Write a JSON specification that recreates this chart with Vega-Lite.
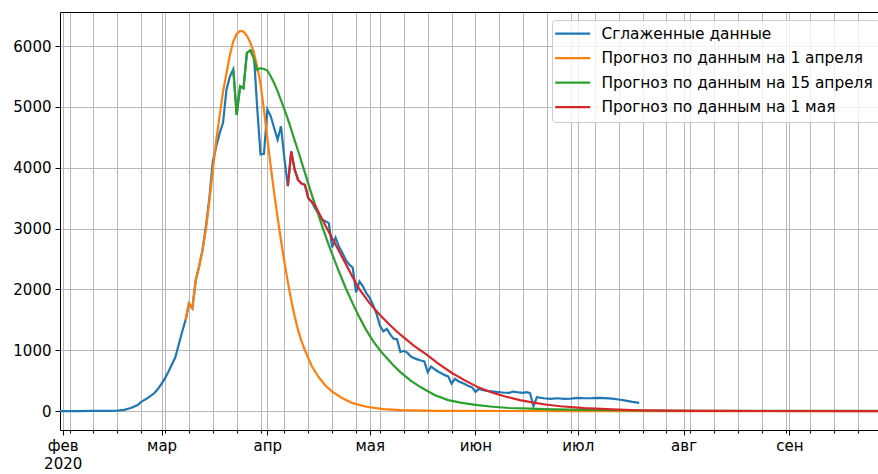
{
  "$schema": "https://vega.github.io/schema/vega-lite/v6.json",
  "width": 818,
  "height": 418,
  "autosize": {"type": "none"},
  "padding": {"left": 60, "top": 12, "right": 0, "bottom": 44},
  "background": "white",
  "config": {
    "font": "DejaVu Sans",
    "view": {"stroke": null},
    "axis": {
      "labelFont": "DejaVu Sans",
      "labelFontSize": 15,
      "labelColor": "#000000",
      "tickColor": "#000000",
      "domainColor": "#000000",
      "domainWidth": 1,
      "tickWidth": 1,
      "gridColor": "#b8b8b8",
      "gridWidth": 1,
      "title": null
    },
    "legend": {
      "labelFont": "DejaVu Sans",
      "labelFontSize": 15.4,
      "labelColor": "#000000",
      "labelLimit": 0
    }
  },
  "datasets": {
    "blue": [
      {"d": "2020-01-31", "v": 0}, {"d": "2020-02-05", "v": 0}, {"d": "2020-02-10", "v": 2}, {"d": "2020-02-14", "v": 4},
      {"d": "2020-02-17", "v": 8}, {"d": "2020-02-19", "v": 20}, {"d": "2020-02-21", "v": 50}, {"d": "2020-02-23", "v": 100},
      {"d": "2020-02-24", "v": 150}, {"d": "2020-02-26", "v": 215}, {"d": "2020-02-28", "v": 300}, {"d": "2020-02-29", "v": 370},
      {"d": "2020-03-01", "v": 450}, {"d": "2020-03-02", "v": 540}, {"d": "2020-03-03", "v": 645}, {"d": "2020-03-04", "v": 765},
      {"d": "2020-03-05", "v": 880}, {"d": "2020-03-06", "v": 1090}, {"d": "2020-03-07", "v": 1300}, {"d": "2020-03-08", "v": 1490},
      {"d": "2020-03-09", "v": 1770}, {"d": "2020-03-10", "v": 1690}, {"d": "2020-03-11", "v": 2150}, {"d": "2020-03-12", "v": 2380},
      {"d": "2020-03-13", "v": 2650}, {"d": "2020-03-14", "v": 3050}, {"d": "2020-03-15", "v": 3500}, {"d": "2020-03-16", "v": 4100},
      {"d": "2020-03-17", "v": 4350}, {"d": "2020-03-18", "v": 4570}, {"d": "2020-03-19", "v": 4740}, {"d": "2020-03-20", "v": 5280},
      {"d": "2020-03-21", "v": 5500}, {"d": "2020-03-22", "v": 5620}, {"d": "2020-03-23", "v": 4870}, {"d": "2020-03-24", "v": 5340},
      {"d": "2020-03-25", "v": 5310}, {"d": "2020-03-26", "v": 5890}, {"d": "2020-03-27", "v": 5930}, {"d": "2020-03-28", "v": 5910},
      {"d": "2020-03-29", "v": 5000}, {"d": "2020-03-30", "v": 4220}, {"d": "2020-03-31", "v": 4230}, {"d": "2020-04-01", "v": 4957},
      {"d": "2020-04-02", "v": 4847}, {"d": "2020-04-03", "v": 4650}, {"d": "2020-04-04", "v": 4464}, {"d": "2020-04-05", "v": 4683},
      {"d": "2020-04-06", "v": 4150}, {"d": "2020-04-07", "v": 3700}, {"d": "2020-04-08", "v": 4270}, {"d": "2020-04-09", "v": 3970},
      {"d": "2020-04-10", "v": 3800}, {"d": "2020-04-11", "v": 3740}, {"d": "2020-04-12", "v": 3720}, {"d": "2020-04-13", "v": 3500},
      {"d": "2020-04-14", "v": 3440}, {"d": "2020-04-15", "v": 3330}, {"d": "2020-04-16", "v": 3250}, {"d": "2020-04-17", "v": 3150},
      {"d": "2020-04-18", "v": 3120}, {"d": "2020-04-19", "v": 3090}, {"d": "2020-04-20", "v": 2690}, {"d": "2020-04-21", "v": 2850},
      {"d": "2020-04-22", "v": 2700}, {"d": "2020-04-23", "v": 2600}, {"d": "2020-04-24", "v": 2480}, {"d": "2020-04-25", "v": 2410},
      {"d": "2020-04-26", "v": 2360}, {"d": "2020-04-27", "v": 1950}, {"d": "2020-04-28", "v": 2130}, {"d": "2020-04-29", "v": 2050},
      {"d": "2020-04-30", "v": 1940}, {"d": "2020-05-01", "v": 1860}, {"d": "2020-05-02", "v": 1740}, {"d": "2020-05-03", "v": 1600},
      {"d": "2020-05-04", "v": 1400}, {"d": "2020-05-05", "v": 1310}, {"d": "2020-05-06", "v": 1350}, {"d": "2020-05-07", "v": 1260},
      {"d": "2020-05-08", "v": 1190}, {"d": "2020-05-09", "v": 1180}, {"d": "2020-05-10", "v": 970}, {"d": "2020-05-11", "v": 990},
      {"d": "2020-05-12", "v": 960}, {"d": "2020-05-13", "v": 900}, {"d": "2020-05-14", "v": 870}, {"d": "2020-05-15", "v": 850},
      {"d": "2020-05-16", "v": 830}, {"d": "2020-05-17", "v": 815}, {"d": "2020-05-18", "v": 640}, {"d": "2020-05-19", "v": 730},
      {"d": "2020-05-20", "v": 690}, {"d": "2020-05-21", "v": 650}, {"d": "2020-05-22", "v": 620}, {"d": "2020-05-23", "v": 590},
      {"d": "2020-05-24", "v": 570}, {"d": "2020-05-25", "v": 450}, {"d": "2020-05-26", "v": 530}, {"d": "2020-05-27", "v": 490},
      {"d": "2020-05-28", "v": 465}, {"d": "2020-05-29", "v": 440}, {"d": "2020-05-30", "v": 410}, {"d": "2020-05-31", "v": 390},
      {"d": "2020-06-01", "v": 316}, {"d": "2020-06-02", "v": 365}, {"d": "2020-06-03", "v": 345}, {"d": "2020-06-04", "v": 335},
      {"d": "2020-06-05", "v": 326}, {"d": "2020-06-07", "v": 315}, {"d": "2020-06-09", "v": 305}, {"d": "2020-06-11", "v": 300},
      {"d": "2020-06-12", "v": 320}, {"d": "2020-06-13", "v": 310}, {"d": "2020-06-15", "v": 300}, {"d": "2020-06-16", "v": 310},
      {"d": "2020-06-17", "v": 295}, {"d": "2020-06-18", "v": 80}, {"d": "2020-06-19", "v": 227}, {"d": "2020-06-21", "v": 210},
      {"d": "2020-06-23", "v": 200}, {"d": "2020-06-25", "v": 210}, {"d": "2020-06-27", "v": 200}, {"d": "2020-06-29", "v": 205},
      {"d": "2020-07-01", "v": 217}, {"d": "2020-07-03", "v": 210}, {"d": "2020-07-05", "v": 212}, {"d": "2020-07-07", "v": 217},
      {"d": "2020-07-09", "v": 212}, {"d": "2020-07-11", "v": 205}, {"d": "2020-07-13", "v": 190}, {"d": "2020-07-15", "v": 170},
      {"d": "2020-07-17", "v": 150}, {"d": "2020-07-19", "v": 135}
    ],
    "orange": [
      {"d": "2020-03-08", "v": 1490}, {"d": "2020-03-09", "v": 1770}, {"d": "2020-03-10", "v": 1690}, {"d": "2020-03-11", "v": 2150},
      {"d": "2020-03-12", "v": 2380}, {"d": "2020-03-13", "v": 2650}, {"d": "2020-03-14", "v": 3000}, {"d": "2020-03-15", "v": 3450},
      {"d": "2020-03-16", "v": 3950}, {"d": "2020-03-17", "v": 4450}, {"d": "2020-03-18", "v": 4850}, {"d": "2020-03-19", "v": 5250},
      {"d": "2020-03-20", "v": 5550}, {"d": "2020-03-21", "v": 5850}, {"d": "2020-03-22", "v": 6080}, {"d": "2020-03-23", "v": 6200},
      {"d": "2020-03-24", "v": 6250}, {"d": "2020-03-25", "v": 6240}, {"d": "2020-03-26", "v": 6170}, {"d": "2020-03-27", "v": 6060},
      {"d": "2020-03-28", "v": 5900}, {"d": "2020-03-29", "v": 5670}, {"d": "2020-03-30", "v": 5380}, {"d": "2020-03-31", "v": 4950},
      {"d": "2020-04-01", "v": 4480}, {"d": "2020-04-02", "v": 4020}, {"d": "2020-04-03", "v": 3580}, {"d": "2020-04-04", "v": 3180},
      {"d": "2020-04-05", "v": 2800}, {"d": "2020-04-06", "v": 2450}, {"d": "2020-04-07", "v": 2120}, {"d": "2020-04-08", "v": 1820},
      {"d": "2020-04-09", "v": 1560}, {"d": "2020-04-10", "v": 1330}, {"d": "2020-04-11", "v": 1150}, {"d": "2020-04-12", "v": 1000},
      {"d": "2020-04-14", "v": 740}, {"d": "2020-04-16", "v": 560}, {"d": "2020-04-18", "v": 420}, {"d": "2020-04-20", "v": 320},
      {"d": "2020-04-23", "v": 210}, {"d": "2020-04-26", "v": 130}, {"d": "2020-04-30", "v": 70}, {"d": "2020-05-05", "v": 30},
      {"d": "2020-05-10", "v": 14}, {"d": "2020-05-20", "v": 4}, {"d": "2020-05-30", "v": 1}, {"d": "2020-06-30", "v": 0},
      {"d": "2020-09-27", "v": 0}
    ],
    "green": [
      {"d": "2020-03-22", "v": 5620}, {"d": "2020-03-23", "v": 4870}, {"d": "2020-03-24", "v": 5340}, {"d": "2020-03-25", "v": 5310},
      {"d": "2020-03-26", "v": 5890}, {"d": "2020-03-27", "v": 5930}, {"d": "2020-03-28", "v": 5800}, {"d": "2020-03-29", "v": 5610},
      {"d": "2020-03-30", "v": 5640}, {"d": "2020-03-31", "v": 5625}, {"d": "2020-04-01", "v": 5600}, {"d": "2020-04-02", "v": 5500},
      {"d": "2020-04-03", "v": 5390}, {"d": "2020-04-04", "v": 5260}, {"d": "2020-04-05", "v": 5110}, {"d": "2020-04-06", "v": 4960},
      {"d": "2020-04-07", "v": 4800}, {"d": "2020-04-08", "v": 4630}, {"d": "2020-04-09", "v": 4450}, {"d": "2020-04-10", "v": 4280},
      {"d": "2020-04-11", "v": 4100}, {"d": "2020-04-12", "v": 3920}, {"d": "2020-04-13", "v": 3740}, {"d": "2020-04-14", "v": 3560},
      {"d": "2020-04-15", "v": 3390}, {"d": "2020-04-16", "v": 3220}, {"d": "2020-04-17", "v": 3050}, {"d": "2020-04-18", "v": 2890},
      {"d": "2020-04-19", "v": 2730}, {"d": "2020-04-20", "v": 2580}, {"d": "2020-04-22", "v": 2290}, {"d": "2020-04-24", "v": 2020},
      {"d": "2020-04-26", "v": 1770}, {"d": "2020-04-28", "v": 1540}, {"d": "2020-04-30", "v": 1330}, {"d": "2020-05-02", "v": 1150},
      {"d": "2020-05-04", "v": 1000}, {"d": "2020-05-06", "v": 870}, {"d": "2020-05-08", "v": 750}, {"d": "2020-05-10", "v": 640},
      {"d": "2020-05-13", "v": 500}, {"d": "2020-05-16", "v": 390}, {"d": "2020-05-20", "v": 265}, {"d": "2020-05-24", "v": 180},
      {"d": "2020-05-28", "v": 135}, {"d": "2020-06-01", "v": 100}, {"d": "2020-06-06", "v": 70}, {"d": "2020-06-11", "v": 50},
      {"d": "2020-06-17", "v": 38}, {"d": "2020-06-24", "v": 28}, {"d": "2020-07-04", "v": 18}, {"d": "2020-07-19", "v": 9},
      {"d": "2020-08-08", "v": 4}, {"d": "2020-08-28", "v": 2}, {"d": "2020-09-27", "v": 1}
    ],
    "red": [
      {"d": "2020-04-07", "v": 3700}, {"d": "2020-04-08", "v": 4270}, {"d": "2020-04-09", "v": 3970}, {"d": "2020-04-10", "v": 3800},
      {"d": "2020-04-11", "v": 3740}, {"d": "2020-04-12", "v": 3720}, {"d": "2020-04-13", "v": 3500}, {"d": "2020-04-14", "v": 3440},
      {"d": "2020-04-15", "v": 3380}, {"d": "2020-04-16", "v": 3270}, {"d": "2020-04-17", "v": 3160}, {"d": "2020-04-18", "v": 3050},
      {"d": "2020-04-19", "v": 2950}, {"d": "2020-04-20", "v": 2840}, {"d": "2020-04-22", "v": 2630}, {"d": "2020-04-24", "v": 2420},
      {"d": "2020-04-26", "v": 2200}, {"d": "2020-04-28", "v": 2000}, {"d": "2020-05-01", "v": 1770}, {"d": "2020-05-04", "v": 1580},
      {"d": "2020-05-07", "v": 1410}, {"d": "2020-05-10", "v": 1255}, {"d": "2020-05-14", "v": 1070}, {"d": "2020-05-18", "v": 915},
      {"d": "2020-05-21", "v": 785}, {"d": "2020-05-25", "v": 630}, {"d": "2020-05-29", "v": 500}, {"d": "2020-06-02", "v": 385},
      {"d": "2020-06-06", "v": 300}, {"d": "2020-06-10", "v": 235}, {"d": "2020-06-14", "v": 180}, {"d": "2020-06-18", "v": 137},
      {"d": "2020-06-22", "v": 103}, {"d": "2020-06-26", "v": 79}, {"d": "2020-07-03", "v": 47}, {"d": "2020-07-11", "v": 26},
      {"d": "2020-07-19", "v": 13}, {"d": "2020-07-27", "v": 7}, {"d": "2020-08-04", "v": 3}, {"d": "2020-08-11", "v": 1.5},
      {"d": "2020-08-23", "v": 0.5}, {"d": "2020-09-27", "v": 0}
    ]
  },
  "encoding": {
    "y": {
      "field": "v",
      "type": "quantitative",
      "scale": {"domain": [-312, 6562], "nice": false, "zero": false},
      "axis": {
        "values": [0, 1000, 2000, 3000, 4000, 5000, 6000],
        "format": "d",
        "grid": true,
        "tickSize": 5,
        "labelPadding": 4,
        "domain": true
      }
    },
    "color": {
      "type": "nominal",
      "scale": {
        "domain": ["Сглаженные данные", "Прогноз по данным на 1 апреля", "Прогноз по данным на 15 апреля", "Прогноз по данным на 1 мая"],
        "range": ["#1f77b4", "#ff7f0e", "#2ca02c", "#d62728"]
      },
      "legend": {
        "title": null,
        "orient": "none",
        "legendX": 492,
        "legendY": 8,
        "padding": 6,
        "fillColor": "rgba(255,255,255,0.8)",
        "strokeColor": "#cccccc",
        "cornerRadius": 3,
        "symbolType": "M-3.5,0H3.5",
        "symbolSize": 100,
        "symbolStrokeWidth": 2.2,
        "symbolOffset": 7,
        "labelOffset": 21,
        "rowPadding": 7.5,
        "labelFontSize": 15.4
      }
    }
  },
  "layer": [
    {
      "data": {"name": "blue"},
      "mark": {"type": "line", "strokeWidth": 2.2, "clip": true},
      "encoding": {
        "x": {
          "field": "d",
          "type": "temporal",
          "scale": {"type": "utc", "domain": [1580446944000, 1601164800000], "nice": false},
          "axis": {
            "orient": "bottom",
            "grid": true,
            "values": [1580515200000, 1580688000000, 1581292800000, 1581897600000, 1582502400000, 1583020800000, 1583107200000, 1583712000000, 1584316800000, 1584921600000, 1585526400000, 1585699200000, 1586131200000, 1586736000000, 1587340800000, 1587945600000, 1588291200000, 1588550400000, 1589155200000, 1589760000000, 1590364800000, 1590969600000, 1591574400000, 1592179200000, 1592784000000, 1593388800000, 1593561600000, 1593993600000, 1594598400000, 1595203200000, 1595808000000, 1596240000000, 1596412800000, 1597017600000, 1597622400000, 1598227200000, 1598832000000, 1598918400000, 1599436800000, 1600041600000, 1600646400000],
            "tickSize": {"condition": {"test": "utcdate(datum.value) == 1", "value": 5}, "value": 3},
            "labelExpr": "utcdate(datum.value) != 1 ? '' : (utcmonth(datum.value) == 1 ? ['фев', '2020'] : ['янв','фев','мар','апр','мая','июн','июл','авг','сен','окт','ноя','дек'][utcmonth(datum.value)])",
            "labelOverlap": false,
            "labelBound": false,
            "labelFlush": false,
            "labelAlign": "center",
            "labelBaseline": "top",
            "labelLineHeight": 18,
            "labelPadding": 3,
            "domain": true
          }
        },
        "color": {"datum": "Сглаженные данные"}
      }
    },
    {
      "data": {"name": "orange"},
      "mark": {"type": "line", "strokeWidth": 2.2, "clip": true},
      "encoding": {
        "x": {
          "field": "d",
          "type": "temporal",
          "scale": {"type": "utc", "domain": [1580446944000, 1601164800000], "nice": false},
          "axis": {"orient": "top", "grid": false, "ticks": false, "labels": false, "domain": true}
        },
        "color": {"datum": "Прогноз по данным на 1 апреля"}
      }
    },
    {
      "data": {"name": "green"},
      "mark": {"type": "line", "strokeWidth": 2.2, "clip": true},
      "encoding": {
        "x": {"field": "d", "type": "temporal", "scale": {"type": "utc", "domain": [1580446944000, 1601164800000], "nice": false}, "axis": null},
        "color": {"datum": "Прогноз по данным на 15 апреля"}
      }
    },
    {
      "data": {"name": "red"},
      "mark": {"type": "line", "strokeWidth": 2.2, "clip": true},
      "encoding": {
        "x": {"field": "d", "type": "temporal", "scale": {"type": "utc", "domain": [1580446944000, 1601164800000], "nice": false}, "axis": null},
        "color": {"datum": "Прогноз по данным на 1 мая"}
      }
    }
  ],
  "resolve": {"axis": {"x": "independent"}}
}
